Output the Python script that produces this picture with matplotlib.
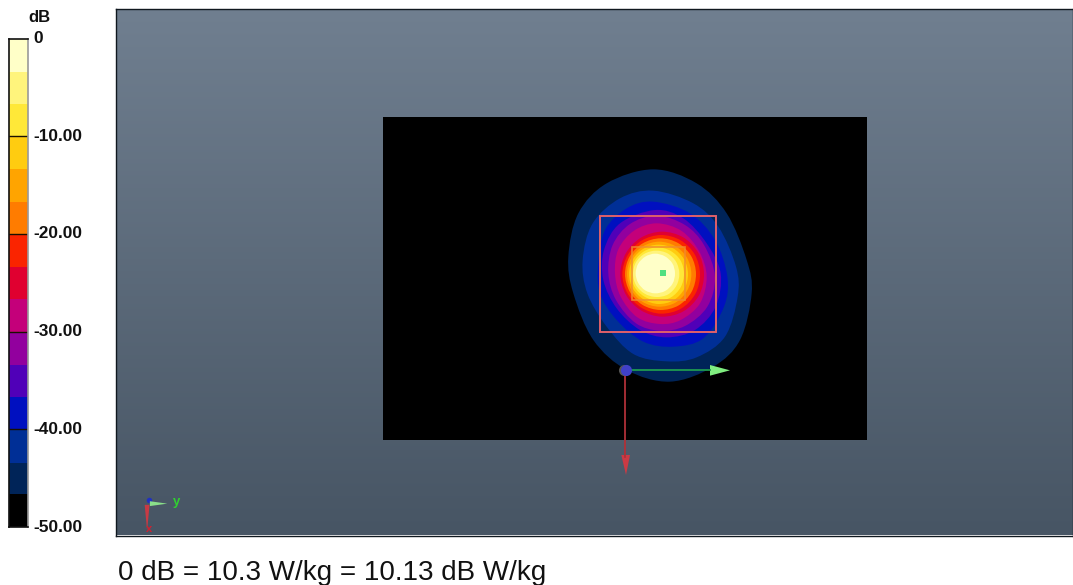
"""SAR scan: dB colour scale and contour bands over a grey scene."""

import numpy as np
import matplotlib
matplotlib.use("Agg")
import matplotlib.pyplot as plt
from matplotlib.patches import PathPatch, Rectangle
from matplotlib.path import Path
from matplotlib.transforms import ScaledTranslation

W, H = 1073, 585

plt.rcParams['font.family'] = ['Liberation Sans', 'DejaVu Sans']

# colour scale, bottom to top
band_colors = ['#000000', '#002458', '#002f96', '#0010c0', '#5000b8', '#92009e',
               '#c4007a', '#e00030', '#fa2400', '#ff7c00', '#ffa400', '#ffcc10',
               '#ffe838', '#fff47c', '#ffffc8']
band_edges = [-50, -46.6, -43.4, -40, -36.7, -33.4, -30, -26.7, -23.4, -20,
              -16.7, -13.4, -10, -6.7, -3.4, 0]
tick_values = [0, -10, -20, -30, -40, -50]
tick_labels = ['0', '-10.00', '-20.00', '-30.00', '-40.00', '-50.00']

# contour outlines, outermost first
outline_navy = [(310, 58), (440, 100), (530, 190), (590, 330), (605, 430), (570, 570), (490, 650),
                (360, 695), (230, 660), (130, 570), (70, 430), (55, 320), (85, 190), (170, 100)]
outline_dark_blue = [(310, 122), (430, 160), (505, 230), (558, 350), (563, 440), (525, 560), (440, 622),
                     (350, 634), (250, 612), (170, 530), (112, 430), (98, 330), (128, 220), (210, 145)]
outline_blue = [(310, 155), (420, 190), (495, 270), (532, 380), (522, 470), (460, 565), (370, 590),
                (280, 575), (200, 510), (150, 430), (145, 340), (165, 240), (230, 175)]
outline_indigo = [(315, 180), (400, 205), (470, 280), (512, 370), (497, 470), (435, 540), (350, 562),
                  (270, 540), (200, 475), (160, 390), (162, 300), (210, 220)]
outline_violet = [(320, 197), (405, 225), (462, 285), (495, 380), (472, 470), (405, 528), (330, 542),
                  (258, 520), (198, 450), (175, 370), (188, 285), (240, 222)]
outline_magenta = [(320, 220), (395, 243), (448, 305), (470, 380), (450, 460), (392, 510), (330, 522),
                   (262, 502), (212, 440), (195, 370), (205, 298), (252, 242)]

# inner rings as radii around their centre, every 30 degrees clockwise from +x
ring_centers = [(336, 372), (333, 372), (331, 372), (327, 372), (325, 372), (322, 371), (318, 371), (315, 370)]
radii_crimson = [126, 128, 129, 128, 126, 125, 125, 125, 126, 127, 127, 126]
radii_red = [117, 119, 120, 119, 117, 116, 116, 115, 116, 117, 117, 117]
radii_orange = [107, 108, 109, 108, 107, 106, 106, 106, 106, 107, 107, 107]
radii_amber = [97, 98, 99, 98, 97, 96, 96, 96, 96, 97, 97, 97]
radii_gold = [89, 90, 91, 90, 88, 88, 88, 88, 88, 88, 89, 89]
radii_yellow = [80, 81, 82, 81, 79, 79, 79, 78, 78, 79, 79, 80]
radii_pale = [70, 71, 72, 70, 69, 69, 69, 69, 69, 69, 70, 70]
radii_cream = [60, 61, 61, 60, 59, 58, 58, 58, 58, 59, 59, 60]

outer_outlines = [outline_navy, outline_dark_blue, outline_blue, outline_indigo, outline_violet,
                  outline_magenta]
inner_radii = [radii_crimson, radii_red, radii_orange, radii_amber, radii_gold, radii_yellow,
               radii_pale, radii_cream]

# scan areas and origin, same units as the outlines
area_scan = (151, 197, 347, 348)
zoom_scan = (246, 292, 159, 159)
peak = (339, 370)
origin = (226, 660)

bg_top, bg_bottom = '#707f90', '#475564'


def ring_points(center, radii):
    """Turn a list of radii into outline points around a ring centre."""
    angles = np.deg2rad(np.arange(len(radii)) * 360 / len(radii))
    r = np.array(radii, dtype=float)
    return np.column_stack((center[0] + r * np.cos(angles), center[1] + r * np.sin(angles)))


def smooth_path(points):
    """Closed Catmull-Rom curve through the outline points."""
    pts = np.array(points, dtype=float)
    n = len(pts)
    verts = [pts[0]]
    codes = [Path.MOVETO]
    for i in range(n):
        p0, p1, p2, p3 = pts[i - 1], pts[i], pts[(i + 1) % n], pts[(i + 2) % n]
        verts += [p1 + (p2 - p0) / 6, p2 - (p3 - p1) / 6, p2]
        codes += [Path.CURVE4] * 3
    return Path(verts, codes)


def fig_axes(fig, left, top, right, bottom):
    """Axes from pixel edges, measured from the top left of the figure."""
    return fig.add_axes([left / W, 1 - bottom / H, (right - left) / W, (bottom - top) / H])


fig = plt.figure(figsize=(W / 100, H / 100), dpi=100, facecolor='white')

# colour scale
ax_bar = fig_axes(fig, 8.5, 38.5, 27.5, 527)
for i, color in enumerate(band_colors):
    ax_bar.barh(band_edges[i], 1, height=band_edges[i + 1] - band_edges[i], align='edge', color=color, lw=0)
ax_bar.set_xlim(0, 1)
ax_bar.set_ylim(-50, 0)
ax_bar.set_xticks([])
ax_bar.set_yticks(tick_values)
ax_bar.set_yticklabels(tick_labels, fontsize=12.4, fontweight='bold', color='#111111')
ax_bar.yaxis.tick_right()
ax_bar.tick_params(axis='y', length=0, pad=4.5)
# labels sit a little above their ticks in the original
nudge = ScaledTranslation(0, 1.5 / 100, fig.dpi_scale_trans)
for label in ax_bar.get_yticklabels():
    label.set_transform(label.get_transform() + nudge)
for value in tick_values[1:-1]:
    ax_bar.axhline(value, color='#1a1000', lw=1)
for name, side in ax_bar.spines.items():
    side.set_linewidth(1.2)
    side.set_color('#999999' if name == 'right' else '#111111')
fig.text(39 / W, 1 - 18 / H, 'dB', fontsize=12, fontweight='bold', ha='center', va='center', color='#111111')

# scene background
ax_scene = fig_axes(fig, 116, 9, 1073, 535.5)
gradient = np.linspace(0, 1, 256)[:, None]
scene_cmap = matplotlib.colors.LinearSegmentedColormap.from_list('scene', [bg_top, bg_bottom])
ax_scene.imshow(gradient, cmap=scene_cmap, aspect='auto', extent=(0, 1, 0, 1))
ax_scene.set_xticks([])
ax_scene.set_yticks([])
for side in ax_scene.spines.values():
    side.set_linewidth(1)
    side.set_color('#10181f')

# small orientation triad, bottom left
ax_scene.annotate('', xy=(0.0565, 0.0605), xytext=(0.0325, 0.0605), annotation_clip=False,
                  arrowprops=dict(arrowstyle='wedge,tail_width=0.35', color='#8ae08a', lw=0))
ax_scene.annotate('', xy=(0.0325, 0.004), xytext=(0.0325, 0.0635),
                  arrowprops=dict(arrowstyle='wedge,tail_width=0.35', color='#c83a44', lw=0))
ax_scene.plot([0.0345], [0.0665], 'o', ms=4, color='#2030c0', mew=0)
ax_scene.text(0.0635, 0.0635, 'y', color='#30d030', fontsize=9.5, fontweight='bold', ha='center', va='center')
ax_scene.text(0.0345, 0.012, 'x', color='#d02030', fontsize=8, fontweight='bold', ha='center', va='center')

# black scan plane, units of the outline lists
ax_field = fig_axes(fig, 383, 117, 867, 440)
ax_field.set_facecolor('black')
ax_field.set_xlim(-501, 951)
ax_field.set_ylim(870, -99)
ax_field.set_xticks([])
ax_field.set_yticks([])
for side in ax_field.spines.values():
    side.set_visible(False)

all_outlines = outer_outlines + [ring_points(c, r) for c, r in zip(ring_centers, inner_radii)]
for outline, color in zip(all_outlines, band_colors[1:]):
    ax_field.add_patch(PathPatch(smooth_path(outline), facecolor=color, edgecolor='none'))

x, y, w, h = area_scan
ax_field.add_patch(Rectangle((x, y), w, h, fill=False, edgecolor='#e0606a', lw=1.4))
x, y, w, h = zoom_scan
ax_field.add_patch(Rectangle((x, y), w, h, fill=False, edgecolor='#f08a30', lw=1.2, alpha=0.85))
ax_field.plot(*peak, 's', ms=4.5, color='#50e080', mew=0)

# origin and axes arrows
ax_field.plot([origin[0], 480], [origin[1], origin[1]], color='#1f9a50', lw=1.3)
ax_field.fill([480, 540, 480], [645, 661, 677], color='#80ee80', lw=0)
ax_field.plot([origin[0], origin[0]], [origin[1], 920], color='#b03038', lw=1.3, clip_on=False)
ax_field.fill([214, 240, 228], [915, 915, 975], color='#cc3a44', lw=0, clip_on=False)
ax_field.plot([origin[0] - 4], [origin[1]], 'o', ms=8, color='#555555', mew=0)
ax_field.plot([origin[0] + 2], [origin[1]], 'o', ms=8, color='#4040c8', mew=0)

fig.text(118 / W, 1 - 572.5 / H, '0 dB = 10.3 W/kg = 10.13 dB W/kg', fontsize=20, color='#111111',
         ha='left', va='center')

fig.savefig('out.png', dpi=100)
